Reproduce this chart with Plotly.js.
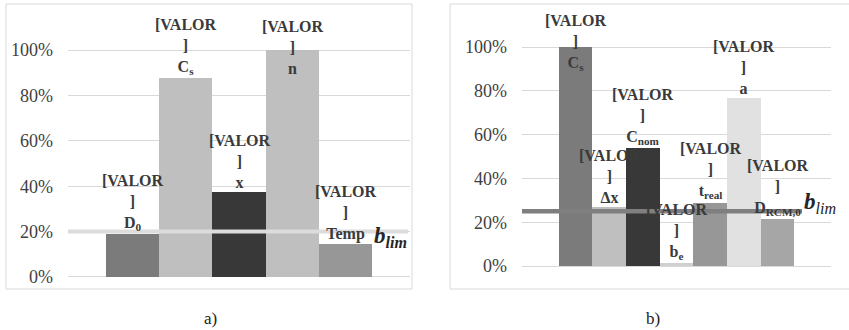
<!DOCTYPE html>
<html>
<head>
<meta charset="utf-8">
<script src="https://cdn.plot.ly/plotly-3.0.1.min.js"></script>
<style>html,body{margin:0;padding:0;background:#fff;}#chart{width:849px;height:330px;}</style>
</head>
<body>
<div id="chart"></div>
<script>
// ---- data ----
var leftCats = ['D0', 'Cs', 'x', 'n', 'Temp'];
var leftLabels = ['D<sub>0</sub>', 'C<sub>s</sub>', 'x', 'n', 'Temp'];
var leftValues = [0.19, 0.875, 0.375, 1.0, 0.145];
var leftColors = ['#7b7b7b', '#bfbfbf', '#383838', '#bfbfbf', '#979797'];
var leftLimit = 0.20;

var rightCats = ['Cs', 'dx', 'Cnom', 'be', 'treal', 'a', 'DRCM'];
var rightLabels = ['C<sub>s</sub>', 'Δx', 'C<sub>nom</sub>', 'b<sub>e</sub>', 't<sub>real</sub>', 'a', 'D<sub>RCM,0</sub>'];
var rightValues = [1.0, 0.27, 0.54, 0.014, 0.29, 0.765, 0.215];
var rightColors = ['#7b7b7b', '#bfbfbf', '#383838', '#cfcfcf', '#979797', '#e1e1e1', '#a6a6a6'];
var rightLimit = 0.25;

var yTickVals = [0, 0.2, 0.4, 0.6, 0.8, 1.0];
var yTickText = ['0%', '20%', '40%', '60%', '80%', '100%'];
var placeholder = '[VALOR';
var panelCaptions = ['a)', 'b)'];

// ---- layout helpers ----
var W = 849, H = 330;
function px(x) { return x / W; }
function py(y) { return 1 - y / H; }
var serif = 'Liberation Serif';

var traces = [
  {type: 'bar', x: leftCats, y: leftValues, marker: {color: leftColors, line: {width: 0}},
   xaxis: 'x', yaxis: 'y', hoverinfo: 'none'},
  {type: 'bar', x: rightCats, y: rightValues, marker: {color: rightColors, line: {width: 0}},
   xaxis: 'x2', yaxis: 'y2', hoverinfo: 'none'}
];

function yAxis(domain) {
  return {
    domain: domain, range: [-0.02, 1.15], tickvals: yTickVals, ticktext: yTickText,
    showgrid: true, gridcolor: '#d9d9d9', gridwidth: 1, zeroline: false, showline: false,
    ticks: '', ticklabelstandoff: 14,
    tickfont: {family: serif, size: 18, color: '#3f3f3f'}
  };
}

var labelClamp = 0.875;
var annotations = [];
function addLabels(cats, labels, values, xref, yref) {
  for (var i = 0; i < cats.length; i++) {
    annotations.push({
      xref: xref, yref: yref, x: cats[i], y: Math.min(values[i], labelClamp),
      xanchor: 'center', yanchor: 'bottom', showarrow: false,
      text: '<b>' + placeholder + '<br>]<br>' + labels[i] + '</b>',
      font: {family: serif, size: 16, color: '#3a3a3a'}, align: 'center', borderpad: 0
    });
  }
}
addLabels(leftCats, leftLabels, leftValues, 'x', 'y');
addLabels(rightCats, rightLabels, rightValues, 'x2', 'y2');

// b_lim labels
annotations.push({xref: 'paper', yref: 'y', x: px(372), y: leftLimit, xanchor: 'left', yanchor: 'middle',
  yshift: -5, showarrow: false, text: '<b><i>b</i></b><sub><b><i>lim</i></b></sub>',
  font: {family: serif, size: 23, color: '#262626'}});
annotations.push({xref: 'paper', yref: 'y2', x: px(802), y: rightLimit, xanchor: 'left', yanchor: 'middle',
  yshift: 8, showarrow: false, text: '<b><i>b</i></b><sub><i>lim</i></sub>',
  font: {family: serif, size: 23, color: '#262626'}});

// captions
annotations.push({xref: 'paper', yref: 'paper', x: px(210), y: py(318), xanchor: 'center', yanchor: 'middle',
  showarrow: false, text: panelCaptions[0], font: {family: serif, size: 17, color: '#222'}});
annotations.push({xref: 'paper', yref: 'paper', x: px(653), y: py(318), xanchor: 'center', yanchor: 'middle',
  showarrow: false, text: panelCaptions[1], font: {family: serif, size: 17, color: '#222'}});

var shapes = [
  {type: 'rect', xref: 'paper', yref: 'paper', x0: px(6), x1: px(412), y0: py(289), y1: py(4),
   line: {color: '#d9d9d9', width: 1}, layer: 'below'},
  {type: 'rect', xref: 'paper', yref: 'paper', x0: px(450), x1: px(853), y0: py(289), y1: py(4),
   line: {color: '#d9d9d9', width: 1}, layer: 'below'},
  {type: 'line', xref: 'paper', yref: 'y', x0: px(68), x1: px(408), y0: leftLimit, y1: leftLimit,
   line: {color: '#dcdcdc', width: 4}, layer: 'above'},
  {type: 'line', xref: 'paper', yref: 'y2', x0: px(522), x1: px(802), y0: rightLimit, y1: rightLimit,
   line: {color: '#7f7f7f', width: 4.5}, layer: 'above'}
];

var layout = {
  width: W, height: H, margin: {l: 0, r: 0, t: 0, b: 0},
  paper_bgcolor: '#ffffff', plot_bgcolor: 'rgba(0,0,0,0)',
  showlegend: false, bargap: 0,
  font: {family: serif},
  xaxis: {domain: [px(68), px(410)], range: [-1.215, 5.215], type: 'category',
          showticklabels: false, ticks: '', showgrid: false, zeroline: false, showline: false},
  yaxis: yAxis([py(281.5), py(16)]),
  xaxis2: {domain: [px(522), px(831)], range: [-1.585, 7.585], type: 'category', anchor: 'y2',
           showticklabels: false, ticks: '', showgrid: false, zeroline: false, showline: false},
  yaxis2: Object.assign(yAxis([py(270.4), py(14.15)]), {anchor: 'x2'}),
  annotations: annotations, shapes: shapes
};

Plotly.newPlot('chart', traces, layout, {staticPlot: true, displayModeBar: false});
</script>
</body>
</html>
